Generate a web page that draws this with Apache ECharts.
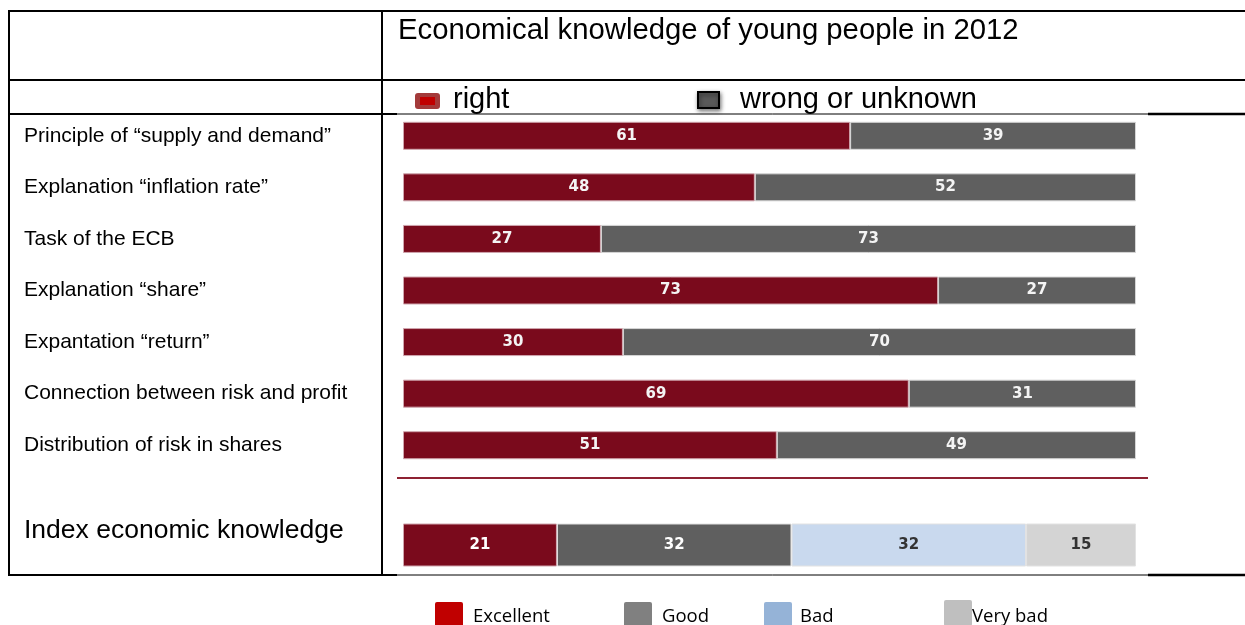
<!DOCTYPE html>
<html>
<head>
<meta charset="utf-8">
<script src="https://cdn.jsdelivr.net/npm/echarts@6/dist/echarts.min.js"></script>
<style>html,body{margin:0;padding:0;background:#fff;}#c{width:1245px;height:625px;}</style>
</head>
<body>
<div id="c"></div>
<script>
const categories = [
  'Principle of \u201csupply and demand\u201d',
  'Explanation \u201cinflation rate\u201d',
  'Task of the ECB',
  'Explanation \u201cshare\u201d',
  'Expantation \u201creturn\u201d',
  'Connection between risk and profit',
  'Distribution of risk in shares'
];
const rightValues = [61, 48, 27, 73, 30, 69, 51];
const wrongValues = [39, 52, 73, 27, 70, 31, 49];
const indexCategory = ['Index economic knowledge'];
const indexNames = ['Excellent', 'Good', 'Bad', 'Very bad'];
const indexValues = [21, 32, 32, 15];

const RED = '#7A0A1C', GRAY = '#5F5F5F', LBLUE = '#C9D9EE', LGRAY = '#D4D4D4';
const indexColors = [RED, GRAY, LBLUE, LGRAY];
const indexLabelColors = ['#fff', '#fff', '#333', '#333'];
const legendColors = ['#C00000', '#808080', '#95B3D7', '#BFBFBF'];

const chart = echarts.init(document.getElementById('c'), null, {renderer: 'canvas'});

const labelFont = {fontFamily: 'DejaVu Sans', fontSize: 15, fontWeight: 'bold'};

const series = [
  {
    name: 'right', type: 'bar', stack: 'a', xAxisIndex: 0, yAxisIndex: 0, barWidth: 28,
    data: rightValues,
    itemStyle: {color: RED, borderColor: '#CFA5AD', borderWidth: 1},
    label: Object.assign({show: true, position: 'inside', color: '#f4f4f4'}, labelFont)
  },
  {
    name: 'wrong or unknown', type: 'bar', stack: 'a', xAxisIndex: 0, yAxisIndex: 0, barWidth: 28,
    data: wrongValues,
    itemStyle: {color: GRAY, borderColor: '#D6D6D6', borderWidth: 1},
    label: Object.assign({show: true, position: 'inside', color: '#f4f4f4'}, labelFont)
  }
];
indexNames.forEach((n, i) => {
  series.push({
    name: n, type: 'bar', stack: 'b', xAxisIndex: 1, yAxisIndex: 1, barWidth: 43,
    data: [indexValues[i]],
    itemStyle: {color: indexColors[i], borderColor: i === 0 ? '#CFA5AD' : '#E2E2E2', borderWidth: 1},
    label: Object.assign({show: true, position: 'inside', color: indexLabelColors[i]}, labelFont)
  });
});

const graphics = [];
function hline(x1, x2, y, w) {
  graphics.push({type: 'line', shape: {x1: x1, y1: y, x2: x2, y2: y}, style: {stroke: '#000', lineWidth: w}, z: 1});
}
function vline(x, y1, y2, w) {
  graphics.push({type: 'line', shape: {x1: x, y1: y1, x2: x, y2: y2}, style: {stroke: '#000', lineWidth: w}, z: 1});
}
// table lines
hline(8, 1245, 11, 2);
hline(8, 1245, 80, 2);
hline(8, 397, 114, 2); hline(397, 1148, 114, 1); hline(1148, 1245, 114, 2.5);
hline(8, 397, 575, 2); hline(397, 1148, 575, 1); hline(1148, 1245, 575, 2.5);
vline(9, 10, 576, 2);
vline(382, 10, 576, 2);
// red divider
graphics.push({type: 'line', shape: {x1: 397, y1: 478, x2: 1148, y2: 478}, style: {stroke: '#8E2232', lineWidth: 2}});
// title
graphics.push({type: 'text', left: 398, top: 16, style: {text: 'Economical knowledge of young people in 2012', font: '29.3px "Liberation Sans", Arial, sans-serif', fill: '#000'}});
// top legend
graphics.push({type: 'rect', shape: {x: 415, y: 93, width: 25, height: 16, r: 3}, style: {fill: '#A33A3A'}});
graphics.push({type: 'rect', shape: {x: 420, y: 97, width: 15, height: 8}, style: {fill: '#C00000'}});
graphics.push({type: 'text', left: 453, top: 85, style: {text: 'right', font: '29px "Liberation Sans", Arial, sans-serif', fill: '#000'}});
graphics.push({type: 'rect', shape: {x: 698, y: 92, width: 21, height: 16}, style: {fill: '#595959', stroke: '#000', lineWidth: 2, shadowBlur: 4, shadowColor: 'rgba(0,0,0,0.5)', shadowOffsetX: 1, shadowOffsetY: 2}});
graphics.push({type: 'text', left: 740, top: 85, style: {text: 'wrong or unknown', font: '29px "Liberation Sans", Arial, sans-serif', fill: '#000'}});
// index label
graphics.push({type: 'text', left: 24, top: 517, style: {text: indexCategory[0], font: '26.5px "Liberation Sans", Arial, sans-serif', fill: '#000'}});
// bottom legend
const legX = [435, 624, 764, 944];
const legTextX = [473, 662, 800, 972];
indexNames.forEach((n, i) => {
  graphics.push({type: 'rect', shape: {x: legX[i], y: i === 3 ? 600 : 602, width: 28, height: 26, r: 2}, style: {fill: legendColors[i]}});
  graphics.push({type: 'text', left: legTextX[i], top: 607, style: {text: n, font: '18.5px "Open Sans", sans-serif', fill: '#000'}});
});

chart.setOption({
  animation: false,
  backgroundColor: '#fff',
  grid: [
    {left: 403, width: 733, top: 110, height: 361},
    {left: 403, width: 733, top: 522, height: 46}
  ],
  xAxis: [
    {gridIndex: 0, type: 'value', min: 0, max: 100, show: false},
    {gridIndex: 1, type: 'value', min: 0, max: 100, show: false}
  ],
  yAxis: [
    {gridIndex: 0, type: 'category', data: categories, inverse: true,
     axisLine: {show: false}, axisTick: {show: false},
     axisLabel: {align: 'left', margin: 379, color: '#000', fontFamily: '"Liberation Sans", Arial, sans-serif', fontSize: 21, padding: [0, 0, 13, 0]}},
    {gridIndex: 1, type: 'category', data: indexCategory, show: false}
  ],
  series: series,
  graphic: graphics
});
</script>
</body>
</html>
